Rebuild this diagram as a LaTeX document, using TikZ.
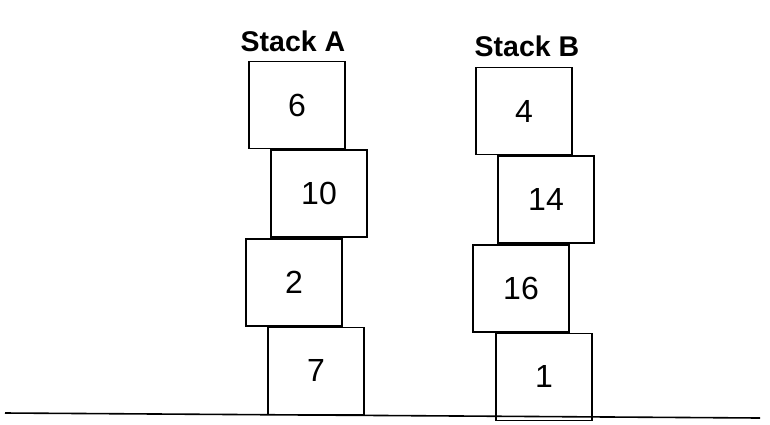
\documentclass[tikz,border=0pt]{standalone}
\usepackage{fontspec}
\setmainfont{Liberation Sans}
\usepackage{tikz}
\usetikzlibrary{positioning}
\tikzset{
    bloco/.style={
        rectangle,
        draw,
        line width=1.6pt,
        inner sep=0pt,
        minimum width=96pt,
        minimum height=87pt,
        font=\fontsize{32}{36}\selectfont
    },
    titulo/.style={font=\fontsize{28.5}{32}\selectfont\bfseries},
    chao/.style={line width=1.6pt}
}

\begin{document}
\begin{tikzpicture}[x=1pt, y=-1pt]
    \useasboundingbox (0,0) rectangle (770,424);

    % pilha A
    \node[titulo] (tituloA) at (293,41) {Stack A};
    \node[bloco] (a6) at (297,105) {6};
    \node[bloco, below=0pt of a6, xshift=22pt] (a10) {10};
    \node[bloco, below=0pt of a10, xshift=-25pt] (a2) {2};
    \node[bloco, below=0pt of a2, xshift=22pt] (a7) {7};

    % pilha B
    \node[titulo] (tituloB) at (527,46) {Stack B};
    \node[bloco] (b4) at (524,111) {4};
    \node[bloco, below=0pt of b4, xshift=22pt] (b14) {14};
    \node[bloco, below=0pt of b14, xshift=-25pt] (b16) {16};
    \node[bloco, below=0pt of b16, xshift=23pt] (b1) {1};

    % chao
    \coordinate (chaoE) at (5,413);
    \coordinate (chaoD) at (760,418);
    \draw[chao] (chaoE) -- (chaoD);
\end{tikzpicture}
\end{document}
